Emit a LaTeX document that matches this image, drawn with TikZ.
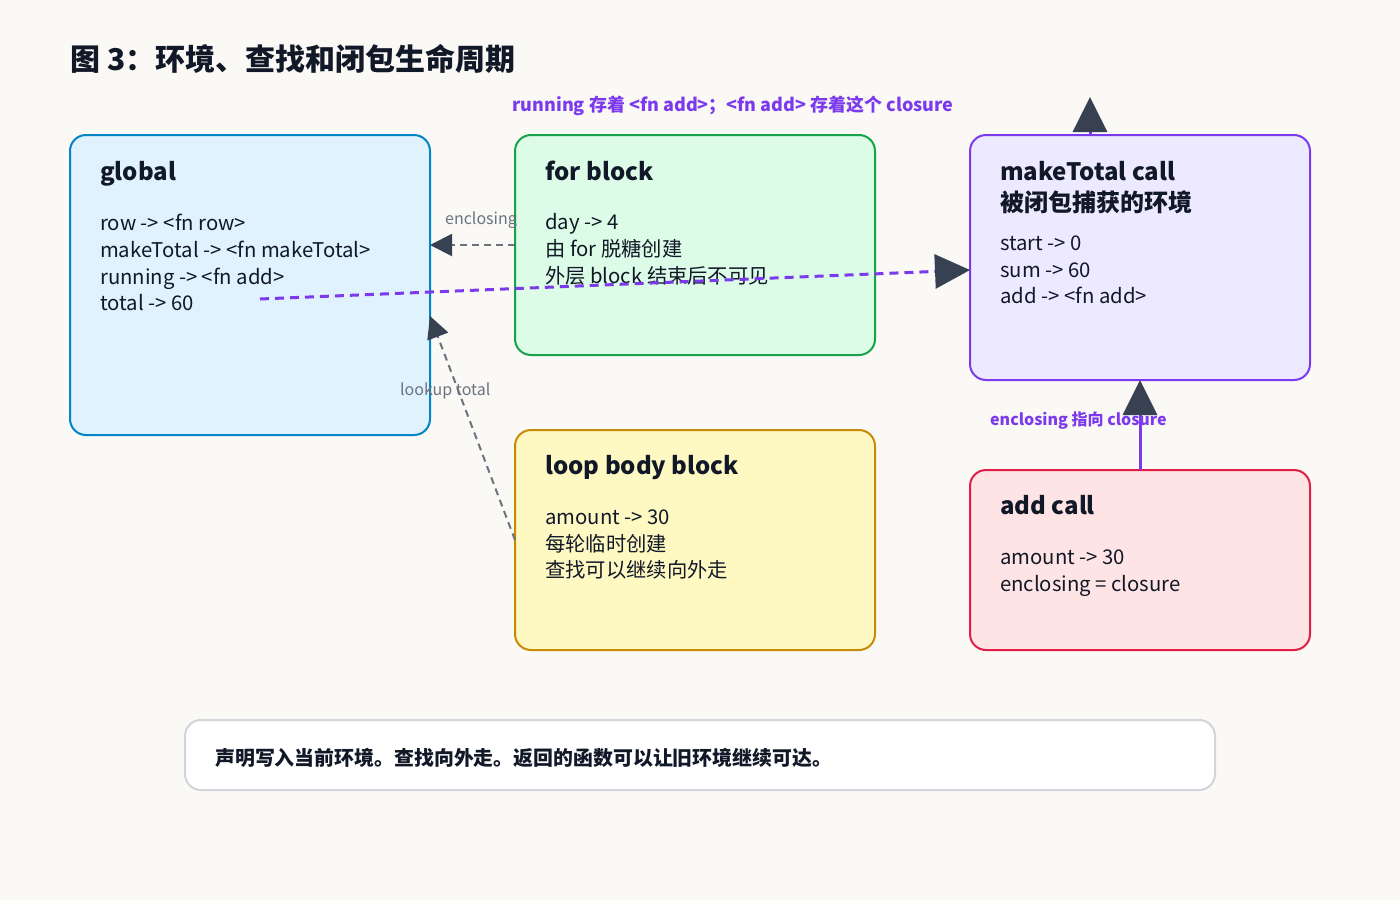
\documentclass[tikz,border=0pt]{standalone}
\usepackage{fontspec}
\setmainfont{Noto Sans CJK SC}
\usetikzlibrary{arrows.meta,calc}
\definecolor{bg}{HTML}{FAF9F6}
\definecolor{ink}{HTML}{111827}
\definecolor{edgegray}{HTML}{6B7280}
\definecolor{headdark}{HTML}{374151}
\definecolor{vio}{HTML}{7C3AED}
\definecolor{gfill}{HTML}{E0F2FE}\definecolor{gline}{HTML}{0284C7}
\definecolor{ffill}{HTML}{DCFCE7}\definecolor{fline}{HTML}{16A34A}
\definecolor{mfill}{HTML}{EDE9FE}\definecolor{mline}{HTML}{7C3AED}
\definecolor{lfill}{HTML}{FEF9C3}\definecolor{lline}{HTML}{CA8A04}
\definecolor{afill}{HTML}{FFE4E6}\definecolor{aline}{HTML}{E11D48}
\definecolor{nline}{HTML}{D1D5DB}
\tikzset{
  envbox/.style={draw, line width=2pt, rounded corners=16pt, anchor=north west, inner sep=0pt, outer sep=0pt},
  ttl/.style={anchor=base west, font=\fontsize{24}{28}\selectfont\bfseries, text=ink, inner sep=0pt},
  bodytxt/.style={anchor=base west, font=\fontsize{20.3}{24}\selectfont, text=ink, inner sep=0pt},
  glabel/.style={anchor=base west, font=\fontsize{16}{18}\selectfont, text=edgegray, inner sep=0pt},
  plabel/.style={font=\fontsize{16}{18}\selectfont\bfseries, text=vio, inner sep=0pt},
  grayarrow/.style={draw=edgegray, line width=2pt, dash pattern=on 7pt off 5pt, -{Triangle[length=22pt,width=22pt,color=headdark]}},
  bigarrow/.style={draw=vio, line width=3pt, -{Triangle[length=35pt,width=34pt,color=headdark]}},
}
\begin{document}
\begin{tikzpicture}[x=1pt,y=-1pt]
\fill[bg] (0,0) rectangle (1400,900);
\useasboundingbox (0,0) rectangle (1400,900);

% title
\node[anchor=base west, inner sep=0pt, font=\fontsize{30}{34}\selectfont\bfseries, text=ink] (title) at (70,70) {图 3：环境、查找和闭包生命周期};

% boxes
\node[envbox, fill=gfill, draw=gline, minimum width=360pt, minimum height=300pt] (glob) at (70,135) {};
\node[envbox, fill=ffill, draw=fline, minimum width=360pt, minimum height=220pt] (forb) at (515,135) {};
\node[envbox, fill=mfill, draw=mline, minimum width=340pt, minimum height=245pt] (mt) at (970,135) {};
\node[envbox, fill=lfill, draw=lline, minimum width=360pt, minimum height=220pt] (loop) at (515,430) {};
\node[envbox, fill=afill, draw=aline, minimum width=340pt, minimum height=180pt] (addc) at (970,470) {};
\node[envbox, fill=white, draw=nline, minimum width=1030pt, minimum height=70pt] (note) at (185,720) {};

% global text
\node[ttl] (gT) at (100,180) {global};
\node[bodytxt] (g1) at (100,230) {row -> <fn row>};
\node[bodytxt] (g2) at (100,257) {makeTotal -> <fn makeTotal>};
\node[bodytxt] (g3) at (100,284) {running -> <fn add>};
\node[bodytxt] (g4) at (100,310) {total -> 60};

% for block text
\node[ttl] (fT) at (545,180) {for block};
\node[bodytxt] (f1) at (545,229) {day -> 4};
\node[bodytxt] (f2) at (545,256) {由 for 脱糖创建};
\node[bodytxt] (f3) at (545,283) {外层 block 结束后不可见};

% makeTotal text
\node[ttl] (mT) at (1000,180) {makeTotal call};
\node[ttl] (mT2) at (1000,211) {被闭包捕获的环境};
\node[bodytxt] (m1) at (1000,250) {start -> 0};
\node[bodytxt] (m2) at (1000,277) {sum -> 60};
\node[bodytxt] (m3) at (1000,303) {add -> <fn add>};

% loop body text
\node[ttl] (lT) at (545,474) {loop body block};
\node[bodytxt] (l1) at (545,524) {amount -> 30};
\node[bodytxt] (l2) at (545,551) {每轮临时创建};
\node[bodytxt] (l3) at (545,577) {查找可以继续向外走};

% add call text
\node[ttl] (aT) at (1000,514) {add call};
\node[bodytxt] (a1) at (1000,564) {amount -> 30};
\node[bodytxt] (a2) at (1000,591) {enclosing = closure};

% note text
\node[anchor=base west, inner sep=0pt, font=\fontsize{19.9}{22}\selectfont\bfseries, text=ink] (noteT) at (215,765) {声明写入当前环境。查找向外走。返回的函数可以让旧环境继续可达。};

% connectors
\draw[grayarrow] (forb.west) -- (glob.east |- forb.west);
\node[glabel] (encl) at (445,224) {enclosing};

\draw[grayarrow] (loop.west) -- ($(glob.east)+(0,31)$);
\node[glabel] (look) at (400,395) {lookup total};

\coordinate (runStart) at (260,299);
\draw[bigarrow, dash pattern=on 9pt off 6pt] (runStart) -- ($(mt.west)+(0,12.5)$);
\node[plabel, anchor=base, font=\fontsize{18}{20}\selectfont\bfseries] (runL) at (733,111) {running 存着 <fn add>；<fn add> 存着这个 closure};

\draw[bigarrow] (addc.north) -- (mt.south);
\node[plabel, anchor=base west] (enclL) at (990,425) {enclosing 指向 closure};

\coordinate (upEnd) at (1090,97);
\draw[bigarrow] ($(mt.north)+(-50,0)$) -- (upEnd);
\end{tikzpicture}
\end{document}
